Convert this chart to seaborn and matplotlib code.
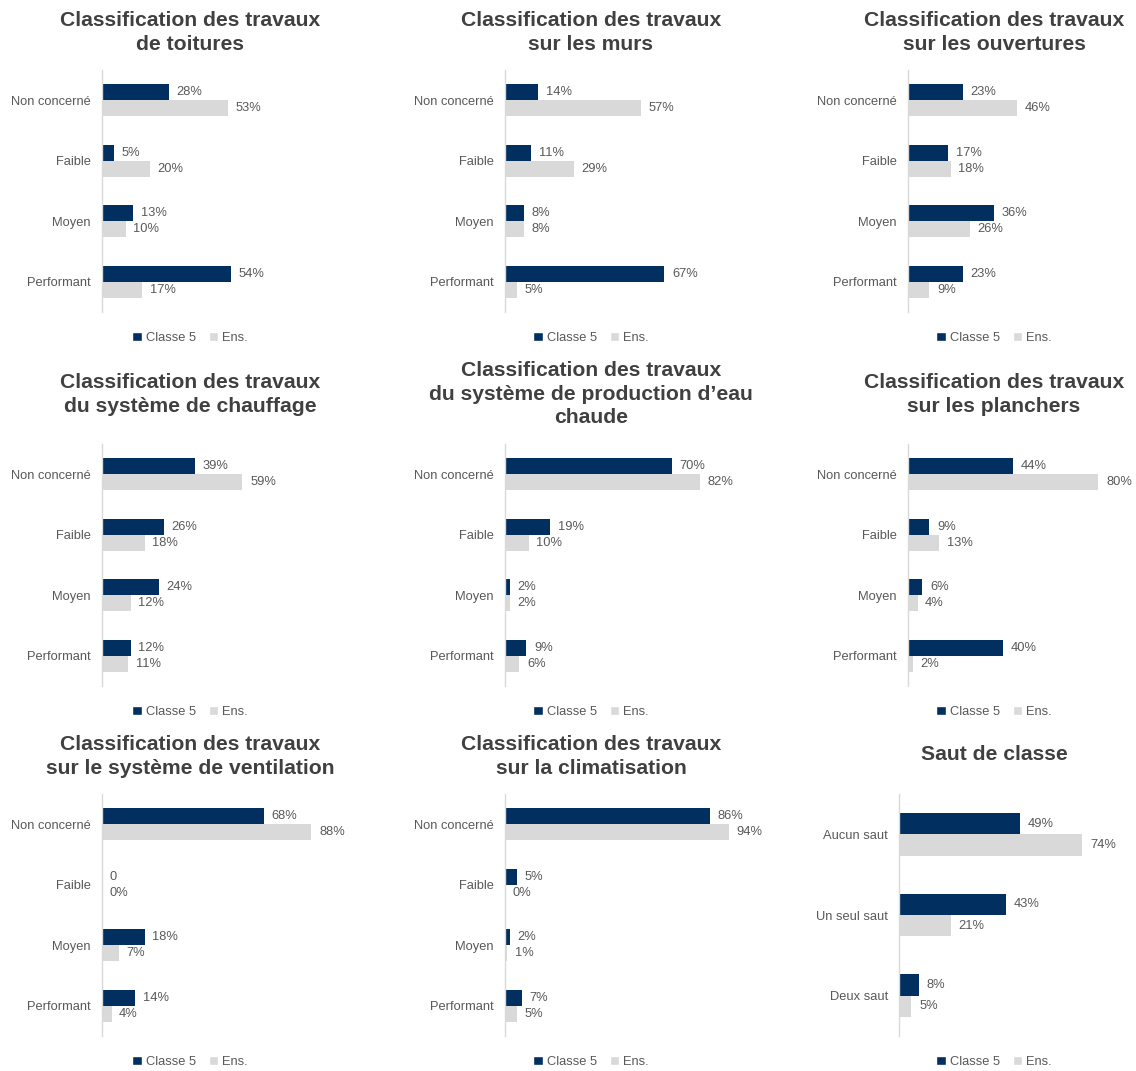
import numpy as np
import pandas as pd
import matplotlib
matplotlib.use("Agg")
import matplotlib.pyplot as plt
import seaborn as sb
from matplotlib.patches import Patch

# Data (percent)
niveaux = ["Non concerné", "Faible", "Moyen", "Performant"]
sauts = ["Aucun saut", "Un seul saut", "Deux saut"]
series = ["Classe 5", "Ens."]

toitures_c5 = [28, 5, 13, 54]
toitures_ens = [53, 20, 10, 17]
murs_c5 = [14, 11, 8, 67]
murs_ens = [57, 29, 8, 5]
ouvertures_c5 = [23, 17, 36, 23]
ouvertures_ens = [46, 18, 26, 9]
chauffage_c5 = [39, 26, 24, 12]
chauffage_ens = [59, 18, 12, 11]
eau_c5 = [70, 19, 2, 9]
eau_ens = [82, 10, 2, 6]
planchers_c5 = [44, 9, 6, 40]
planchers_ens = [80, 13, 4, 2]
ventilation_c5 = [68, 0, 18, 14]
ventilation_ens = [88, 0, 7, 4]
clim_c5 = [86, 5, 2, 7]
clim_ens = [94, 0, 1, 5]
saut_c5 = [49, 43, 8]
saut_ens = [74, 21, 5]

titles = [
    "Classification des travaux\nde toitures",
    "Classification des travaux\nsur les murs",
    "Classification des travaux\nsur les ouvertures",
    "Classification des travaux\ndu système de chauffage",
    "Classification des travaux\ndu système de production d\u2019eau\nchaude",
    "Classification des travaux\nsur les planchers",
    "Classification des travaux\nsur le système de ventilation",
    "Classification des travaux\nsur la climatisation",
    "Saut de classe",
]
panels = [
    (niveaux, toitures_c5, toitures_ens),
    (niveaux, murs_c5, murs_ens),
    (niveaux, ouvertures_c5, ouvertures_ens),
    (niveaux, chauffage_c5, chauffage_ens),
    (niveaux, eau_c5, eau_ens),
    (niveaux, planchers_c5, planchers_ens),
    (niveaux, ventilation_c5, ventilation_ens),
    (niveaux, clim_c5, clim_ens),
    (sauts, saut_c5, saut_ens),
]

navy = "#002F60"
grey = "#D9D9D9"
txt = "#595959"

sb.set_theme(style="white")
plt.rcParams["font.family"] = ["Liberation Sans", "DejaVu Sans"]

W, H = 1136, 1071
fig = plt.figure(figsize=(W / 100, H / 100), dpi=100)

# pixel layout of each panel
col_left = [102, 505, 908]
col_center = [190, 591, 994]
row_axes = [(70, 312), (444, 686), (794, 1036)]
row_title = [20, 382, 744]
row_legend = [338, 712, 1062]

for i, (cats, c5, ens) in enumerate(panels):
    r, c = divmod(i, 3)
    left = col_left[c]
    xmax = 100
    if i == 8:
        left = 899
        xmax = 96
    top, bottom = row_axes[r]
    ax = fig.add_axes([left / W, 1 - bottom / H, 238 / W, (bottom - top) / H])

    df = pd.DataFrame({
        "cat": cats * 2,
        "serie": [series[0]] * len(cats) + [series[1]] * len(cats),
        "val": list(c5) + list(ens),
    })
    sb.barplot(data=df, y="cat", x="val", hue="serie", order=cats, hue_order=series,
               palette=[navy, grey], width=0.53, gap=0, ax=ax, legend=False,
               saturation=1, edgecolor="none")
    for cont, vals in zip(ax.containers, [c5, ens]):
        labs = []
        for k, v in enumerate(vals):
            if i == 6 and cont is ax.containers[0] and v == 0:
                labs.append("0")
            else:
                labs.append(f"{v}%")
        ax.bar_label(cont, labels=labs, padding=5.5, fontsize=9.3, color=txt)

    ax.set_xlim(0, xmax)
    ax.set_ylim(len(cats) - 0.5, -0.5)
    ax.set_xlabel("")
    ax.set_ylabel("")
    ax.set_xticks([])
    for s in ["top", "right", "bottom"]:
        ax.spines[s].set_visible(False)
    ax.spines["left"].set_color(grey)
    ax.spines["left"].set_linewidth(1)
    ax.tick_params(axis="y", length=0, pad=8, labelsize=9.3, labelcolor=txt)
    ax.patch.set_alpha(0)

    # title
    cx = col_center[c]
    ty = row_title[r]
    if i == 4:
        ty = 370
    if i == 8:
        ty = 755
    for k, line in enumerate(titles[i].split("\n")):
        fig.text(cx / W, 1 - (ty + 24 * k) / H, line, ha="center", va="center",
                 fontsize=15.2, fontweight="bold", color="#404040")

    # legend
    handles = [Patch(facecolor=navy, label=series[0]), Patch(facecolor=grey, label=series[1])]
    fig.legend(handles=handles, loc="center", bbox_to_anchor=(cx / W, 1 - row_legend[r] / H),
               ncol=2, frameon=False, fontsize=9.3, handlelength=0.75, handleheight=0.75,
               handletextpad=0.3, columnspacing=1.0, labelcolor=txt)

fig.savefig("out.png", dpi=100)
